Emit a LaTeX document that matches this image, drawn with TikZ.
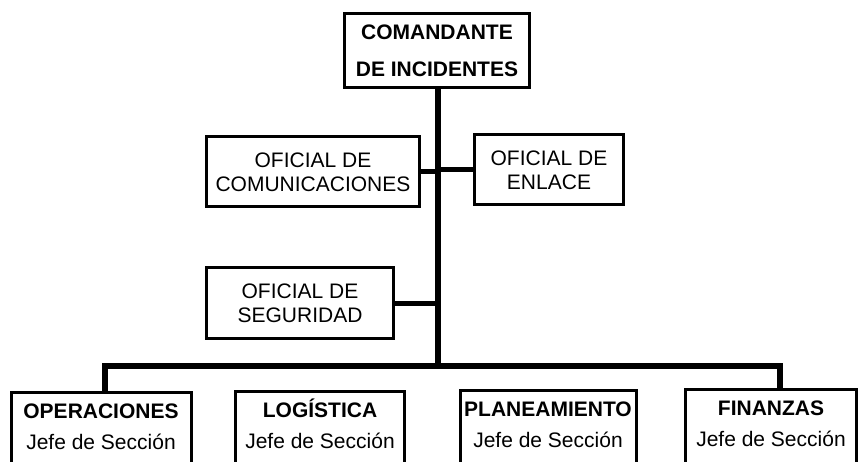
\documentclass[tikz,border=0pt]{standalone}
\usepackage{fontspec}
\setmainfont{Liberation Sans}
\usetikzlibrary{positioning}

\begin{document}
\begin{tikzpicture}[x=1pt,y=-1pt,
    box/.style={draw,line width=3pt,rectangle,align=center,inner sep=0pt,
      font=\fontsize{21}{24}\selectfont},
    seccion/.style={box,anchor=north,minimum height=80pt,
      text height=46pt,text depth=12pt},
    link/.style={line width=6pt}]
  \useasboundingbox (0,0) rectangle (859,462);
  \clip (0,0) rectangle (859,462);
  % mando y staff
  \node[box,minimum width=185pt,minimum height=74pt] (Cmd) at (437,51)
    {\bfseries COMANDANTE\\[13pt]\bfseries DE INCIDENTES};
  \node[box,minimum width=213pt,minimum height=70pt] (Com) at (313,172)
    {OFICIAL DE\\COMUNICACIONES};
  \node[box,minimum width=149pt,minimum height=70pt] (Enl) at (549,170)
    {OFICIAL DE\\ENLACE};
  \node[box,minimum width=187pt,minimum height=70pt] (Seg) at (300,303)
    {OFICIAL DE\\SEGURIDAD};
  % secciones
  \node[seccion,minimum width=180pt] (Ops) at (101,391)
    {\textbf{OPERACIONES}\\[7pt]Jefe de Sección};
  \node[seccion,minimum width=169pt] (Log) at (320,390)
    {\textbf{LOGÍSTICA}\\[7pt]Jefe de Sección};
  \node[seccion,minimum width=176pt] (Pla) at (548,389)
    {\textbf{PLANEAMIENTO}\\[7pt]Jefe de Sección};
  \node[seccion,minimum width=171pt] (Fin) at (771,388)
    {\textbf{FINANZAS}\\[7pt]Jefe de Sección};
  % lineas
  \coordinate (Bus) at (438,366);
  \coordinate (BusL) at (105,366);
  \coordinate (BusR) at (780,366);
  \draw[link] (Cmd.south -| Bus) -- (Bus);
  \draw[link,line width=5pt] (Com.east) -- (Com.east -| Bus);
  \draw[link,line width=5pt] (Enl.west) -- (Enl.west -| Bus);
  \draw[link,line width=5pt] (Seg.east) -- (Seg.east -| Bus);
  \draw[link,line cap=rect] (BusL) -- (BusR);
  \draw[link] (BusL) -- (BusL |- Ops.north);
  \draw[link] (Log.north -| 328,0) -- (Log.north -| 328,366);
  \draw[link] (Pla.north -| 550,0) -- (Pla.north -| 550,366);
  \draw[link] (BusR) -- (BusR |- Fin.north);
\end{tikzpicture}
\end{document}
